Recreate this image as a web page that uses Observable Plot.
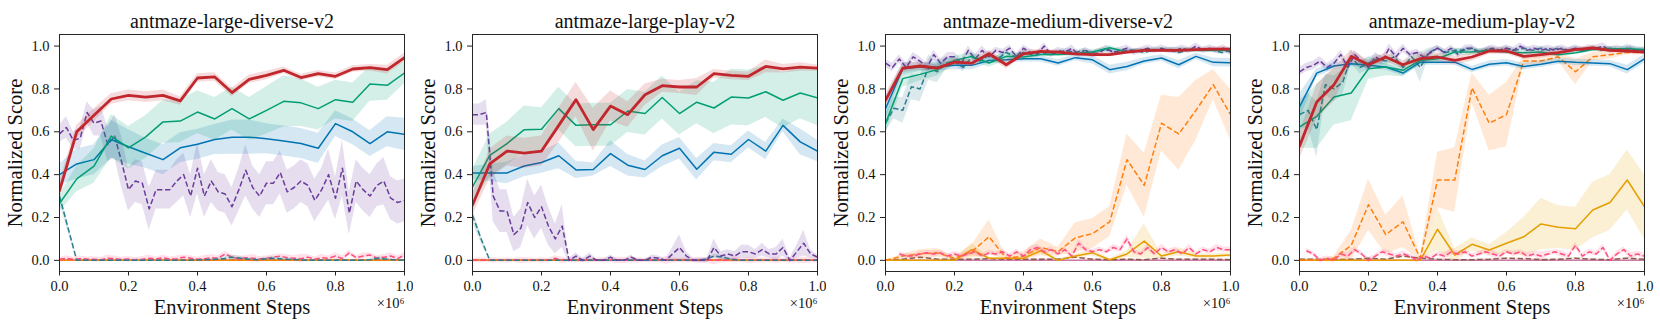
<!DOCTYPE html>
<html><head><meta charset="utf-8">
<script src="https://cdn.jsdelivr.net/npm/d3@7"></script>
<script src="https://cdn.jsdelivr.net/npm/@observablehq/plot@0.6"></script>
<style>
body{margin:0;background:#fff}
#wrap{position:relative;width:1660px;height:325px;overflow:hidden}
.panel{position:absolute;top:0}
</style></head><body><div id="wrap"></div>
<script>
// ---------- grids (x in units of 1e6 environment steps) ----------
const xs21 = [0,0.05,0.1,0.15,0.2,0.25,0.3,0.35,0.4,0.45,0.5,0.55,0.6,0.65,0.7,0.75,0.8,0.85,0.9,0.95,1.0];
const xs41 = [0,0.025,0.05,0.075,0.1,0.125,0.15,0.175,0.2,0.225,0.25,0.275,0.3,0.325,0.35,0.375,0.4,0.425,0.45,0.475,0.5,0.525,0.55,0.575,0.6,0.625,0.65,0.675,0.7,0.725,0.75,0.775,0.8,0.825,0.85,0.875,0.9,0.925,0.95,0.975,1.0];
const xs51 = [0,0.02,0.04,0.06,0.08,0.1,0.12,0.14,0.16,0.18,0.2,0.22,0.24,0.26,0.28,0.3,0.32,0.34,0.36,0.38,0.4,0.42,0.44,0.46,0.48,0.5,0.52,0.54,0.56,0.58,0.6,0.62,0.64,0.66,0.68,0.7,0.72,0.74,0.76,0.78,0.8,0.82,0.84,0.86,0.88,0.9,0.92,0.94,0.96,0.98,1.0];
const xTicks = [0,0.2,0.4,0.6,0.8,1.0];
const yTicks = [0,0.2,0.4,0.6,0.8,1.0];
const titles = ["antmaze-large-diverse-v2","antmaze-large-play-v2","antmaze-medium-diverse-v2","antmaze-medium-play-v2"];
const xLabel = "Environment Steps";
const yLabel = "Normalized Score";
const xMultiplier = "×10⁶";

const zeros21 = [0,0,0,0,0,0,0,0,0,0,0,0,0,0,0,0,0,0,0,0,0];
const tiny21 = [0.002,0.002,0.002,0.002,0.002,0.002,0.002,0.002,0.002,0.002,0.002,0.002,0.002,0.002,0.002,0.002,0.002,0.002,0.002,0.002,0.002];

// ---------- panel 1: antmaze-large-diverse-v2 ----------
const p1Ours = [0.325,0.60,0.677,0.753,0.77,0.762,0.77,0.744,0.851,0.856,0.783,0.845,0.863,0.887,0.853,0.871,0.859,0.893,0.899,0.89,0.946];
const p1OursSd = [0.04,0.03,0.03,0.025,0.025,0.025,0.025,0.02,0.02,0.02,0.02,0.02,0.02,0.015,0.015,0.015,0.015,0.015,0.015,0.02,0.02];
const p1Green = [0.265,0.38,0.44,0.58,0.525,0.576,0.646,0.65,0.692,0.66,0.708,0.66,0.70,0.742,0.735,0.708,0.75,0.738,0.823,0.817,0.874];
const p1GreenSd = [0.04,0.06,0.08,0.1,0.1,0.1,0.1,0.1,0.1,0.1,0.1,0.1,0.11,0.12,0.11,0.1,0.09,0.09,0.08,0.07,0.05];
const p1Blue = [0.40,0.45,0.47,0.564,0.53,0.50,0.47,0.525,0.542,0.564,0.575,0.575,0.568,0.557,0.545,0.523,0.638,0.60,0.545,0.60,0.588];
const p1BlueSd = [0.05,0.07,0.07,0.09,0.08,0.07,0.07,0.07,0.07,0.07,0.08,0.08,0.07,0.07,0.07,0.07,0.06,0.06,0.06,0.07,0.075];
const p1Purple = [0.59,0.62,0.56,0.57,0.69,0.64,0.65,0.54,0.58,0.46,0.33,0.37,0.36,0.24,0.33,0.33,0.33,0.37,0.40,0.30,0.43,0.30,0.37,0.32,0.31,0.25,0.33,0.42,0.34,0.30,0.36,0.36,0.41,0.32,0.34,0.37,0.35,0.28,0.33,0.40,0.29,0.43,0.22,0.37,0.33,0.30,0.35,0.37,0.29,0.27,0.28];
const p1PurpleSd = [0.04,0.05,0.04,0.05,0.05,0.06,0.07,0.08,0.1,0.12,0.1,0.1,0.1,0.1,0.09,0.09,0.09,0.1,0.1,0.1,0.12,0.1,0.1,0.09,0.09,0.09,0.1,0.12,0.1,0.1,0.1,0.1,0.1,0.1,0.1,0.1,0.1,0.1,0.1,0.12,0.1,0.13,0.1,0.1,0.1,0.1,0.1,0.11,0.1,0.1,0.1];
const p1Teal = [0.30,0.15,0,0,0,0,0,0,0,0,0,0,0,0,0,0,0.002,0.003,0.005,0.008,0.015,0.01,0.005,0.003,0.008,0.01,0.006,0.004,0.002,0,0,0,0,0,0,0,0.003,0.01,0.005,0.002,0.002];
const p1TealSd = [0.03,0.02,0,0,0,0,0,0,0,0,0,0,0,0,0,0,0.003,0.003,0.005,0.006,0.01,0.008,0.005,0.003,0.006,0.008,0.005,0.003,0.002,0,0,0,0,0,0,0,0.003,0.008,0.004,0.002,0.002];
const p1Pink = [0.005,0.01,0.005,0.008,0.006,0.005,0.003,0.01,0.008,0.004,0.006,0.003,0.005,0.01,0.006,0.012,0.006,0.008,0.015,0.01,0.005,0.008,0.012,0.01,0.03,0.015,0.008,0.012,0.01,0.006,0.01,0.015,0.02,0.012,0.01,0.008,0.015,0.006,0.012,0.01,0.02,0.008,0.035,0.012,0.02,0.025,0.01,0.015,0.02,0.008,0.025];

// ---------- panel 2: antmaze-large-play-v2 ----------
const p2Ours = [0.258,0.45,0.51,0.50,0.51,0.63,0.75,0.61,0.72,0.68,0.773,0.815,0.809,0.809,0.871,0.863,0.859,0.905,0.894,0.902,0.897];
const p2OursSd = [0.05,0.07,0.07,0.07,0.07,0.08,0.08,0.1,0.07,0.06,0.05,0.03,0.03,0.04,0.02,0.02,0.02,0.03,0.02,0.02,0.015];
const p2Green = [0.343,0.49,0.545,0.61,0.612,0.708,0.63,0.633,0.633,0.697,0.685,0.76,0.685,0.738,0.711,0.762,0.758,0.787,0.747,0.781,0.758];
const p2GreenSd = [0.08,0.1,0.1,0.11,0.1,0.1,0.1,0.1,0.1,0.1,0.1,0.1,0.1,0.1,0.12,0.13,0.13,0.12,0.13,0.12,0.13];
const p2Blue = [0.408,0.408,0.408,0.44,0.457,0.488,0.422,0.424,0.498,0.444,0.424,0.488,0.523,0.425,0.505,0.495,0.564,0.51,0.63,0.553,0.51];
const p2BlueSd = [0.03,0.04,0.05,0.05,0.05,0.06,0.04,0.03,0.06,0.05,0.04,0.05,0.05,0.05,0.04,0.04,0.04,0.04,0.03,0.06,0.05];
const p2Purple = [0.68,0.68,0.69,0.30,0.23,0.23,0.12,0.15,0.27,0.20,0.25,0.16,0.10,0.16,0.00,0.02,0.00,0.02,0.00,0.00,0.015,0.00,0.00,0.015,0.00,0.00,0.015,0.01,0.00,0.03,0.06,0.02,0.00,0.00,0.00,0.06,0.02,0.03,0.02,0.04,0.04,0.03,0.05,0.03,0.03,0.06,0.00,0.04,0.08,0.03,0.015];
const p2PurpleSd = [0.05,0.05,0.06,0.12,0.1,0.1,0.08,0.09,0.11,0.1,0.1,0.09,0.07,0.1,0.01,0.015,0.01,0.015,0.005,0.005,0.01,0.005,0.005,0.01,0.005,0.005,0.01,0.01,0.005,0.03,0.06,0.02,0.01,0.01,0.01,0.04,0.02,0.02,0.02,0.03,0.03,0.02,0.03,0.02,0.03,0.04,0.01,0.03,0.06,0.02,0.01];
const p2Teal = [0.21,0.10,0,0,0,0,0,0,0,0,0,0,0,0,0,0,0,0,0,0,0,0,0,0,0,0,0,0.005,0.02,0.015,0.005,0,0,0,0,0,0,0,0,0,0];
const p2TealSd = [0.03,0.02,0,0,0,0,0,0,0,0,0,0,0,0,0,0,0,0,0,0,0,0,0,0,0,0,0,0.005,0.01,0.01,0.005,0,0,0,0,0,0,0,0,0,0];
const p2Pink = [0,0,0,0,0,0,0,0,0,0,0,0,0.01,0,0,0,0,0,0,0,0,0,0,0,0,0,0,0,0,0,0,0,0,0,0,0,0,0,0.005,0,0,0,0,0,0,0,0,0,0,0,0];

// ---------- panel 3: antmaze-medium-diverse-v2 ----------
const p3Ours = [0.747,0.897,0.907,0.897,0.925,0.92,0.964,0.913,0.964,0.975,0.972,0.964,0.96,0.96,0.972,0.98,0.98,0.98,0.983,0.986,0.986];
const p3OursSd = [0.03,0.02,0.02,0.015,0.015,0.015,0.015,0.02,0.015,0.01,0.01,0.01,0.01,0.01,0.01,0.01,0.01,0.01,0.01,0.01,0.01];
const p3Green = [0.638,0.848,0.868,0.89,0.933,0.952,0.921,0.952,0.949,0.961,0.961,0.964,0.972,0.992,0.972,0.98,0.983,0.983,0.98,0.98,0.98];
const p3GreenSd = [0.05,0.04,0.03,0.03,0.02,0.02,0.02,0.02,0.015,0.01,0.01,0.01,0.01,0.01,0.01,0.01,0.01,0.01,0.01,0.01,0.01];
const p3Blue = [0.708,0.894,0.902,0.902,0.91,0.91,0.933,0.936,0.941,0.941,0.921,0.946,0.936,0.89,0.905,0.93,0.944,0.913,0.952,0.924,0.922];
const p3BlueSd = [0.05,0.03,0.02,0.02,0.02,0.02,0.015,0.015,0.015,0.015,0.015,0.015,0.02,0.02,0.02,0.015,0.015,0.02,0.015,0.02,0.02];
const p3Purple = [0.92,0.90,0.94,0.90,0.95,0.93,0.90,0.96,0.92,0.95,0.95,0.92,0.98,0.94,0.98,0.95,0.98,0.97,0.99,0.95,0.99,0.97,0.96,1.00,0.96,0.98,0.97,0.99,0.96,0.98,0.96,0.97,0.99,0.97,0.98,0.99,0.97,0.98,0.99,0.98,0.99,0.98,0.98,0.99,0.98,1.00,0.98,0.99,0.98,0.99,0.97];
const p3Teal = [0.64,0.71,0.70,0.81,0.80,0.90,0.88,0.92,0.93,0.90,0.95,0.93,0.96,0.94,0.97,0.95,0.97,0.96,0.97,0.96,0.97,0.98,0.97,0.98,0.97,0.98,0.98,0.97,0.98,0.98,0.97,0.98,0.98,0.98,0.97,0.98,0.98,0.98,0.98,0.97,0.98];
const p3TealSd = [0.04,0.05,0.06,0.06,0.06,0.06,0.05,0.03,0.02,0.02,0.015,0.015,0.015,0.015,0.01,0.01,0.01,0.01,0.01,0.01,0.01,0.01,0.01,0.01,0.01,0.01,0.01,0.01,0.01,0.01,0.01,0.01,0.01,0.01,0.01,0.01,0.01,0.01,0.01,0.01,0.01];
const p3Orange = [0,0.02,0.03,0.035,0.01,0.04,0.11,0.01,0.02,0.06,0.04,0.105,0.125,0.18,0.47,0.35,0.64,0.59,0.70,0.82,0.68];
const p3OrangeSd = [0,0.01,0.02,0.02,0.01,0.03,0.08,0.01,0.02,0.04,0.02,0.07,0.07,0.07,0.12,0.15,0.13,0.17,0.14,0.07,0.12];
const p3Gold = [0,0,0,0,0,0.05,0.01,0.01,0.01,0.045,0,0.02,0.035,0.003,0.03,0.09,0.02,0.04,0.02,0.02,0.025];
const p3GoldSd = [0,0,0,0,0,0.03,0.005,0.005,0.005,0.015,0.005,0.01,0.015,0.005,0.015,0.08,0.01,0.02,0.01,0.01,0.01];
const p3Brown = [0,0.005,0.015,0.005,0.005,0.005,0.008,0.005,0.005,0.005,0.005,0.015,0.005,0.003,0.005,0.003,0.01,0.005,0.005,0.005,0.003];
const p3Pink = [null,null,0.03,0.02,0.02,0.03,0.035,0.03,0.035,0.02,0.03,0.02,0.03,0.04,0.02,0.035,0.03,0.04,0.02,0.04,0.02,0.05,0.06,0.04,0.05,0.03,0.05,0.02,0.08,0.05,0.04,0.05,0.04,0.06,0.05,0.10,0.04,0.03,0.06,0.03,0.06,0.04,0.05,0.03,0.06,0.03,0.05,0.04,0.06,0.05,0.05];

// ---------- panel 4: antmaze-medium-play-v2 ----------
const p4Ours = [0.533,0.739,0.82,0.952,0.913,0.949,0.913,0.941,0.949,0.933,0.949,0.977,0.977,0.952,0.96,0.969,0.983,0.991,0.98,0.977,0.972];
const p4OursSd = [0.06,0.08,0.08,0.03,0.02,0.02,0.02,0.02,0.02,0.02,0.02,0.015,0.015,0.015,0.015,0.015,0.01,0.01,0.01,0.01,0.01];
const p4Green = [0.623,0.672,0.762,0.781,0.894,0.902,0.887,0.933,0.941,0.972,0.972,0.98,0.972,0.969,0.972,0.96,0.969,0.984,0.988,0.988,0.984];
const p4GreenSd = [0.1,0.15,0.13,0.13,0.05,0.04,0.03,0.02,0.02,0.015,0.015,0.01,0.01,0.01,0.01,0.01,0.01,0.01,0.01,0.01,0.01];
const p4Blue = [0.716,0.874,0.907,0.918,0.91,0.902,0.874,0.925,0.925,0.925,0.891,0.915,0.922,0.905,0.915,0.929,0.924,0.921,0.918,0.89,0.941];
const p4BlueSd = [0.06,0.02,0.015,0.015,0.015,0.015,0.015,0.015,0.015,0.015,0.015,0.015,0.015,0.015,0.015,0.015,0.015,0.015,0.015,0.02,0.02];
const p4Purple = [0.88,0.90,0.91,0.93,0.90,0.92,0.96,0.90,0.96,0.93,0.90,0.95,0.93,0.99,0.95,0.99,0.96,0.97,0.95,0.97,0.99,0.97,0.99,0.96,0.99,0.99,0.97,0.98,0.99,0.98,0.99,0.98,1.00,0.98,0.99,0.98,0.99,0.98,0.99,0.98,0.99,0.98,0.99,0.99,1.00,0.98,0.99,0.98,0.99,0.98,0.98];
const p4Teal = [0.68,0.70,0.61,0.82,0.80,0.83,0.95,0.90,0.92,0.94,0.93,0.95,0.90,0.95,0.90,0.97,0.99,0.97,0.98,0.98,0.99,0.97,0.99,0.98,0.99,0.98,0.99,0.98,0.99,0.98,0.99,0.98,0.99,0.98,0.99,0.98,0.99,0.98,0.99,0.98,0.98];
const p4TealSd = [0.07,0.08,0.13,0.05,0.06,0.06,0.03,0.03,0.03,0.02,0.02,0.02,0.02,0.02,0.07,0.02,0.01,0.01,0.01,0.01,0.01,0.01,0.01,0.01,0.01,0.01,0.01,0.01,0.01,0.01,0.01,0.01,0.01,0.01,0.01,0.01,0.01,0.01,0.02,0.01,0.01];
const p4Orange = [0,0,0.01,0.07,0.26,0.12,0.18,0.01,0.375,0.375,0.805,0.64,0.68,0.93,0.93,0.95,0.88,0.95,0.96,0.97,0.97];
const p4OrangeSd = [0,0,0.01,0.07,0.12,0.09,0.12,0.01,0.13,0.15,0.07,0.13,0.15,0.02,0.02,0.02,0.06,0.02,0.02,0.01,0.01];
const p4Gold = [0,0,0,0,0,0,0,0,0.145,0.025,0.075,0.048,0.08,0.11,0.17,0.155,0.148,0.235,0.27,0.375,0.25];
const p4GoldSd = [0,0,0,0,0,0,0,0,0.1,0.03,0.03,0.025,0.05,0.09,0.12,0.1,0.1,0.13,0.13,0.14,0.15];
const p4Brown = [0.005,0.005,0.003,0.005,0.01,0.005,0.02,0.01,0.005,0.003,0.003,0.005,0.01,0.008,0.003,0.005,0.01,0.005,0.003,0.01,0.005];
const p4Pink = [null,0.045,0.03,0.00,0.01,0.00,0.03,0.02,0.05,0.03,0.00,0.02,0.04,0.03,0.02,0.03,0.02,0.00,0.02,0.01,0.03,0.02,0.04,0.03,0.04,0.02,0.03,0.04,0.03,0.02,0.04,0.03,0.04,0.02,0.03,0.02,0.03,0.04,0.03,0.02,0.07,0.02,0.04,0.03,0.06,0.00,0.03,0.05,0.02,0.03,0.02];

const purpleSdMed = [0.02,0.02,0.02,0.02,0.02,0.02,0.02,0.02,0.02,0.02,0.02,0.02,0.02,0.02,0.02,0.02,0.015,0.015,0.015,0.015,0.015,0.015,0.015,0.015,0.015,0.015,0.015,0.015,0.015,0.015,0.015,0.015,0.015,0.015,0.015,0.015,0.015,0.015,0.015,0.015,0.015,0.015,0.015,0.015,0.015,0.015,0.015,0.015,0.015,0.015,0.015];
const pinkSd = [0.008,0.012,0.01,0.012,0.01,0.012,0.01,0.015,0.012,0.01,0.012,0.01,0.012,0.015,0.01,0.012,0.01,0.012,0.01,0.012,0.01,0.015,0.015,0.012,0.012,0.01,0.012,0.01,0.018,0.012,0.01,0.012,0.01,0.015,0.012,0.02,0.012,0.01,0.015,0.01,0.015,0.012,0.012,0.01,0.015,0.01,0.012,0.012,0.015,0.012,0.012];

// ---------- styles ----------
const col = {ours:"#c1272d", green:"#029e73", blue:"#0173b2", purple:"#6a3d9a", teal:"#2b7d8c",
             orange:"#ff7f0e", gold:"#e69f00", pink:"#ff4f7e", brown:"#8c5a4a", magenta:"#cc79a7"};
const FONT = "'Liberation Serif', serif";

function rows(xs, ys, sd) {
  const out = [];
  ys.forEach((y, i) => { if (y != null) out.push({x: xs[i], y, lo: y - (sd ? sd[i] : 0), hi: y + (sd ? sd[i] : 0)}); });
  return out;
}

const panels = [
  {title: titles[0], series: [
    ["magenta", xs21, zeros21, tiny21, false, 1.5],
    ["gold", xs21, zeros21, tiny21, false, 1.5],
    ["brown", xs21, zeros21, tiny21, true, 1.5],
    ["orange", xs21, zeros21, tiny21, true, 1.5],
    ["pink", xs51, p1Pink, pinkSd, true, 1.5],
    ["teal", xs41, p1Teal, p1TealSd, true, 1.5],
    ["purple", xs51, p1Purple, p1PurpleSd, true, 1.5],
    ["blue", xs21, p1Blue, p1BlueSd, false, 1.5],
    ["green", xs21, p1Green, p1GreenSd, false, 1.5],
    ["ours", xs21, p1Ours, p1OursSd, false, 2.8]]},
  {title: titles[1], series: [
    ["magenta", xs21, zeros21, tiny21, false, 1.5],
    ["gold", xs21, zeros21, tiny21, false, 1.5],
    ["brown", xs21, zeros21, tiny21, true, 1.5],
    ["orange", xs21, zeros21, tiny21, true, 1.5],
    ["pink", xs51, p2Pink, pinkSd, true, 1.5],
    ["teal", xs41, p2Teal, p2TealSd, true, 1.5],
    ["purple", xs51, p2Purple, p2PurpleSd, true, 1.5],
    ["blue", xs21, p2Blue, p2BlueSd, false, 1.5],
    ["green", xs21, p2Green, p2GreenSd, false, 1.5],
    ["ours", xs21, p2Ours, p2OursSd, false, 2.8]]},
  {title: titles[2], series: [
    ["magenta", xs21, zeros21, tiny21, false, 1.5],
    ["brown", xs21, p3Brown, tiny21, true, 1.5],
    ["gold", xs21, p3Gold, p3GoldSd, false, 1.5],
    ["orange", xs21, p3Orange, p3OrangeSd, true, 1.5],
    ["pink", xs51, p3Pink, pinkSd, true, 1.5],
    ["teal", xs41, p3Teal, p3TealSd, true, 1.5],
    ["purple", xs51, p3Purple, purpleSdMed, true, 1.5],
    ["blue", xs21, p3Blue, p3BlueSd, false, 1.5],
    ["green", xs21, p3Green, p3GreenSd, false, 1.5],
    ["ours", xs21, p3Ours, p3OursSd, false, 2.8]]},
  {title: titles[3], series: [
    ["magenta", xs21, zeros21, tiny21, false, 1.5],
    ["brown", xs21, p4Brown, tiny21, true, 1.5],
    ["gold", xs21, p4Gold, p4GoldSd, false, 1.5],
    ["orange", xs21, p4Orange, p4OrangeSd, true, 1.5],
    ["pink", xs51, p4Pink, pinkSd, true, 1.5],
    ["teal", xs41, p4Teal, p4TealSd, true, 1.5],
    ["purple", xs51, p4Purple, purpleSdMed, true, 1.5],
    ["blue", xs21, p4Blue, p4BlueSd, false, 1.5],
    ["green", xs21, p4Green, p4GreenSd, false, 1.5],
    ["ours", xs21, p4Ours, p4OursSd, false, 2.8]]}
];

const wrap = document.getElementById("wrap");
const lefts = [0, 413.3, 826.3, 1239.7];

panels.forEach((p, k) => {
  const marks = [];
  for (const [name, xs, ys, sd, dashed, w] of p.series) {
    const data = rows(xs, ys, sd);
    marks.push(Plot.areaY(data, {x: "x", y1: "lo", y2: "hi", fill: col[name], fillOpacity: 0.17, curve: "linear", clip: true}));
    marks.push(Plot.lineY(data, {x: "x", y: "y", stroke: col[name], strokeWidth: w,
      strokeDasharray: dashed ? "5.5,2.6" : null, strokeLinejoin: "round", strokeLinecap: dashed ? "butt" : "round", clip: true}));
  }
  marks.push(Plot.frame({stroke: "#262626", strokeWidth: 1}));
  marks.push(Plot.axisX({ticks: xTicks, tickFormat: d3.format(".1f"), tickSize: 4.5, tickPadding: 4.5, label: null, fontSize: 14.5, fontFamily: FONT, stroke: "#222"}));
  marks.push(Plot.axisY({ticks: yTicks, tickFormat: d3.format(".1f"), tickSize: 5, tickPadding: 5, label: null, fontSize: 14.5, fontFamily: FONT, stroke: "#222"}));
  marks.push(Plot.text([p.title], {frameAnchor: "top", dy: -13, fontSize: 20, fontFamily: FONT, fill: "#111", textAnchor: "middle", lineAnchor: "middle"}));
  marks.push(Plot.text([xLabel], {frameAnchor: "bottom", dy: 36, fontSize: 20.5, fontFamily: FONT, fill: "#111", textAnchor: "middle", lineAnchor: "middle"}));
  marks.push(Plot.text([xMultiplier], {frameAnchor: "bottom-right", dy: 32, dx: 0, textAnchor: "end", fontSize: 14.5, fontFamily: FONT, fill: "#111", lineAnchor: "middle"}));
  marks.push(Plot.text([yLabel], {frameAnchor: "left", dx: -44, rotate: -90, fontSize: 20.5, fontFamily: FONT, fill: "#111", textAnchor: "middle", lineAnchor: "middle"}));

  const chart = Plot.plot({
    width: 413, height: 325,
    marginLeft: 59, marginRight: 9, marginTop: 34, marginBottom: 54,
    x: {domain: [0, 1]},
    y: {domain: [-0.052, 1.054]},
    style: {fontFamily: FONT, color: "#111", background: "white", overflow: "visible"},
    marks
  });
  const div = document.createElement("div");
  div.className = "panel";
  div.style.left = lefts[k] + "px";
  div.appendChild(chart);
  wrap.appendChild(div);
});
</script></body></html>
